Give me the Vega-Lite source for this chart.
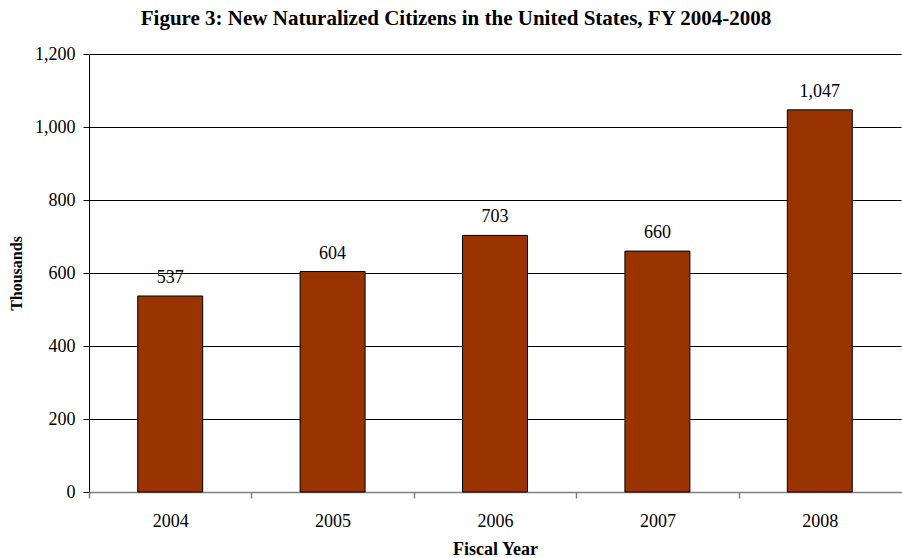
{
  "$schema": "https://vega.github.io/schema/vega-lite/v6.json",
  "width": 812,
  "height": 438,
  "autosize": "none",
  "padding": {"left": 89, "top": 54, "right": 1, "bottom": 66},
  "config": {"font": "Liberation Serif", "view": {"stroke": null}},
  "title": {"text": "Figure 3: New Naturalized Citizens in the United States, FY 2004-2008", "fontSize": 21, "fontWeight": "bold", "anchor": "middle", "frame": "group", "offset": 16, "dx": -39, "color": "#000000", "font": "Liberation Serif"},
  "data": {"values": [
    {"year": "2004", "value": 537},
    {"year": "2005", "value": 604},
    {"year": "2006", "value": 703},
    {"year": "2007", "value": 660},
    {"year": "2008", "value": 1047}
  ]},
  "encoding": {
    "x": {"field": "year", "type": "ordinal", "scale": {"paddingInner": 0.6, "paddingOuter": 0.3},
      "axis": {"title": "Fiscal Year", "titleFontSize": 18, "titleFontWeight": "bold", "titleColor": "#000", "titlePadding": 10, "labelAngle": 0, "labelFontSize": 18, "labelColor": "#000", "labelPadding": 14, "labelOffset": 81.2, "domainColor": "#808080", "tickColor": "#808080", "tickSize": 6, "tickWidth": 1.5, "tickOffset": -81.2, "domainWidth": 1.5}},
    "y": {"field": "value", "type": "quantitative", "scale": {"domain": [0, 1200]},
      "axis": {"title": "Thousands", "titleFontSize": 16, "titleFontWeight": "bold", "titleColor": "#000", "titlePadding": 10, "values": [0, 200, 400, 600, 800, 1000, 1200], "format": ",.0f", "labelFontSize": 18, "labelColor": "#000", "labelPadding": 8, "domainColor": "#000", "tickColor": "#000", "tickSize": 6, "gridColor": "#000", "gridOpacity": 1, "gridWidth": 1}}
  },
  "layer": [
    {"mark": {"type": "bar", "fill": "#993300", "stroke": "#000", "strokeWidth": 1}},
    {"mark": {"type": "text", "dy": -13, "baseline": "alphabetic", "fontSize": 18, "color": "#000"}, "encoding": {"text": {"field": "value", "type": "quantitative", "format": ",.0f"}}}
  ]
}
